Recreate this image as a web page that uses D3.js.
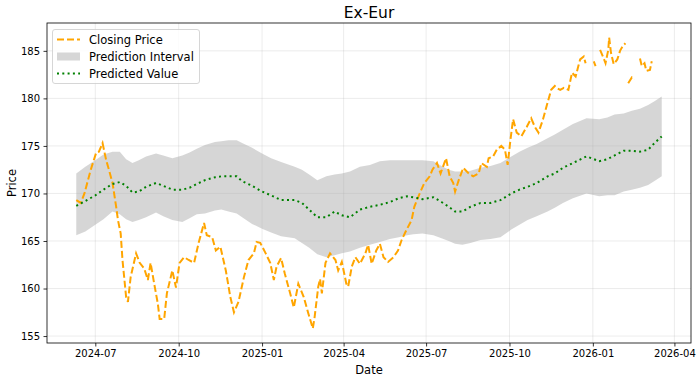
<!DOCTYPE html>
<html><head><meta charset="utf-8">
<script src="https://cdn.jsdelivr.net/npm/d3@7"></script>
<style>body{margin:0;background:#fff}text{font-family:"DejaVu Sans",sans-serif}</style>
</head><body><svg id="c" width="700" height="382"></svg>
<script>
const closeDates = ["2024-06-10","2024-06-15","2024-06-19","2024-06-26","2024-07-02","2024-07-05","2024-07-09","2024-07-13","2024-07-16","2024-07-20","2024-07-24","2024-07-26","2024-07-29","2024-07-31","2024-08-04","2024-08-06","2024-08-09","2024-08-15","2024-08-19","2024-08-24","2024-08-28","2024-08-31","2024-09-04","2024-09-08","2024-09-10","2024-09-15","2024-09-18","2024-09-24","2024-09-28","2024-10-02","2024-10-07","2024-10-12","2024-10-18","2024-10-23","2024-10-29","2024-11-01","2024-11-07","2024-11-11","2024-11-16","2024-11-22","2024-11-27","2024-12-01","2024-12-06","2024-12-12","2024-12-17","2024-12-23","2024-12-26","2024-12-30","2025-01-05","2025-01-10","2025-01-14","2025-01-17","2025-01-22","2025-01-26","2025-02-01","2025-02-05","2025-02-10","2025-02-16","2025-02-21","2025-02-26","2025-02-28","2025-03-04","2025-03-06","2025-03-08","2025-03-12","2025-03-17","2025-03-23","2025-03-26","2025-03-30","2025-04-04","2025-04-06","2025-04-10","2025-04-14","2025-04-19","2025-04-25","2025-04-28","2025-05-02","2025-05-07","2025-05-11","2025-05-15","2025-05-20","2025-05-26","2025-05-31","2025-06-04","2025-06-09","2025-06-15","2025-06-18","2025-06-24","2025-06-29","2025-07-05","2025-07-08","2025-07-13","2025-07-17","2025-07-23","2025-07-27","2025-07-31","2025-08-02","2025-08-06","2025-08-11","2025-08-17","2025-08-22","2025-08-28","2025-08-31","2025-09-06","2025-09-08","2025-09-13","2025-09-17","2025-09-22","2025-09-26","2025-09-29","2025-10-02","2025-10-05","2025-10-09","2025-10-14","2025-10-20","2025-10-25","2025-10-29","2025-11-02","2025-11-07","2025-11-11","2025-11-16","2025-11-20","2025-11-22","2025-11-26","2025-11-30","2025-12-05","2025-12-09","2025-12-13","2025-12-16","2025-12-18","2025-12-22","2025-12-24","2025-12-28","2026-01-02","2026-01-04","2026-01-06","2026-01-09","2026-01-13","2026-01-15","2026-01-18","2026-01-19","2026-01-21","2026-01-24","2026-01-28","2026-01-31","2026-02-03","2026-02-06","2026-02-08","2026-02-09","2026-02-13","2026-02-16","2026-02-19","2026-02-22","2026-02-24","2026-02-27","2026-03-01","2026-03-05","2026-03-07"];
const closeValues = [169.3,169.0,170.0,172.5,174.3,174.4,175.3,173.5,172.5,171.1,168.6,167.2,165.8,163.0,159.1,158.6,161.2,163.7,162.7,162.1,160.9,162.7,160.5,158.4,156.8,156.8,159.5,161.9,160.1,162.7,163.3,163.0,162.7,164.8,166.9,165.6,165.4,164.0,164.4,161.9,159.1,157.5,158.6,161.2,163.0,163.7,164.9,164.8,163.7,162.7,160.9,162.3,163.2,161.6,159.5,158.0,160.5,159.1,157.4,155.8,157.0,160.2,161.0,159.5,162.7,163.7,163.0,161.9,162.8,160.5,160.2,162.3,163.3,162.6,163.7,164.6,162.6,164.0,164.7,163.3,162.8,163.3,164.0,165.1,166.1,167.2,168.6,170.0,171.1,171.8,172.5,173.2,172.1,173.7,171.8,171.1,170.2,171.4,172.7,172.1,171.8,172.1,173.2,172.8,173.7,173.9,174.6,175.0,174.6,173.0,175.6,177.8,176.4,176.0,177.0,177.9,177.0,176.4,177.8,179.2,180.9,181.3,181.1,180.9,181.1,180.9,182.7,182.3,183.4,184.1,184.4,183.7,null,183.9,183.4,null,185.1,184.2,183.7,185.1,186.4,184.8,183.6,184.1,185.0,185.5,185.8,null,181.6,182.2,182.0,null,184.2,183.4,183.7,182.9,183.0,183.9];

const predDates = ["2024-06-10","2024-06-20","2024-07-01","2024-07-10","2024-07-20","2024-07-28","2024-08-04","2024-08-11","2024-08-18","2024-08-26","2024-09-06","2024-09-14","2024-09-24","2024-10-05","2024-10-13","2024-10-21","2024-10-30","2024-11-10","2024-11-17","2024-11-25","2024-12-04","2024-12-10","2024-12-21","2025-01-01","2025-01-11","2025-01-22","2025-02-06","2025-02-14","2025-02-22","2025-03-03","2025-03-13","2025-03-22","2025-03-30","2025-04-08","2025-04-19","2025-04-30","2025-05-11","2025-05-22","2025-06-01","2025-06-10","2025-06-17","2025-06-27","2025-07-09","2025-07-18","2025-07-26","2025-08-02","2025-08-10","2025-08-19","2025-08-30","2025-09-10","2025-09-21","2025-10-03","2025-10-12","2025-10-21","2025-10-31","2025-11-12","2025-11-20","2025-11-29","2025-12-10","2025-12-25","2026-01-08","2026-01-17","2026-01-25","2026-02-04","2026-02-13","2026-02-22","2026-03-03","2026-03-10","2026-03-18"];
const predValues = [168.7,169.2,169.8,170.4,171.0,171.2,170.8,170.1,170.2,170.7,171.1,170.8,170.4,170.4,170.6,171.0,171.4,171.7,171.8,171.8,171.8,171.3,170.8,170.2,169.8,169.3,169.3,169.0,168.3,167.5,167.5,168.1,167.7,167.5,168.3,168.6,168.8,169.1,169.5,169.7,169.6,169.4,169.6,169.1,168.6,168.1,168.1,168.6,169.0,169.0,169.3,170.0,170.4,170.7,171.1,171.8,172.1,172.7,173.2,173.9,173.4,173.6,174.0,174.5,174.5,174.4,174.6,175.3,176.0];
const upperValues = [172.1,172.8,173.5,174.1,174.4,174.4,173.6,173.2,173.5,173.9,174.2,174.0,173.7,174.0,174.3,174.7,175.1,175.4,175.5,175.6,175.6,175.3,174.8,174.2,173.7,173.3,172.8,172.5,172.0,171.4,171.8,172.0,172.1,172.3,172.8,173.0,173.4,173.5,173.5,173.5,173.5,173.5,173.4,172.9,172.5,172.3,172.3,172.4,172.7,172.9,173.2,173.9,174.4,174.8,175.2,175.8,176.2,176.7,177.3,177.9,177.8,178.0,178.3,178.4,178.7,178.9,179.3,179.7,180.2];
const lowerValues = [165.6,166.0,166.7,167.3,168.1,167.8,167.3,167.0,167.2,167.5,168.0,167.6,167.2,167.0,167.4,167.8,167.9,168.2,168.3,168.1,167.9,167.5,166.8,166.3,165.9,165.5,165.3,164.8,164.3,163.6,163.3,163.5,163.7,163.9,164.3,164.6,164.9,165.2,165.4,165.6,165.7,165.8,165.6,165.3,165.0,164.7,164.6,164.8,165.1,165.2,165.4,166.2,166.7,167.2,167.6,168.1,168.5,169.0,169.5,170.0,169.7,169.8,169.8,170.2,170.4,170.6,170.9,171.3,171.8];

const yTickValues = [155,160,165,170,175,180,185];
const legendLabels = ["Closing Price","Prediction Interval","Predicted Value"];
const titleText = "Ex-Eur";

const parse = d3.utcParse("%Y-%m-%d");
const closing = closeDates.map((d,i)=>({date:parse(d), v:closeValues[i]}));
const pred = predDates.map((d,i)=>({date:parse(d), v:predValues[i], hi:upperValues[i], lo:lowerValues[i]}));

const L=47,R=691,T=23,B=343;
const svg = d3.select("#c");

const allDates = closing.map(d=>d.date).concat(pred.map(d=>d.date));
const [dmin,dmax] = d3.extent(allDates);
const span = dmax-dmin;
const x = d3.scaleUtc().domain([new Date(+dmin-0.05*span), new Date(+dmax+0.05*span)]).range([L,R]);
const allV = closeValues.filter(v=>v!=null).concat(upperValues, lowerValues, predValues);
const [vmin,vmax] = d3.extent(allV);
const vs = vmax-vmin;
const y = d3.scaleLinear().domain([vmin-0.05*vs, vmax+0.05*vs]).range([B,T]);

// band
svg.append("path").datum(pred)
  .attr("d", d3.area().x(d=>x(d.date)).y0(d=>y(d.lo)).y1(d=>y(d.hi)))
  .attr("fill","#808080").attr("fill-opacity",0.32);

// grid
const xTicks = x.ticks(d3.utcMonth.every(3));
svg.append("g").selectAll("line").data(xTicks).join("line")
  .attr("x1",d=>x(d)).attr("x2",d=>x(d)).attr("y1",T).attr("y2",B)
  .attr("stroke","#b0b0b0").attr("stroke-opacity",0.3).attr("stroke-width",0.8);
svg.append("g").selectAll("line").data(yTickValues).join("line")
  .attr("y1",d=>y(d)).attr("y2",d=>y(d)).attr("x1",L).attr("x2",R)
  .attr("stroke","#b0b0b0").attr("stroke-opacity",0.3).attr("stroke-width",0.8);

// closing line
svg.append("path").datum(closing)
  .attr("d", d3.line().defined(d=>d.v!=null).x(d=>x(d.date)).y(d=>y(d.v)))
  .attr("fill","none").attr("stroke","#FFA500").attr("stroke-width",2)
  .attr("stroke-dasharray","7,3");

// predicted
svg.append("path").datum(pred)
  .attr("d", d3.line().x(d=>x(d.date)).y(d=>y(d.v)))
  .attr("fill","none").attr("stroke","#008000").attr("stroke-width",2)
  .attr("stroke-dasharray","2,3.3");

// axes
const xAxis = d3.axisBottom(x).tickValues(xTicks).tickFormat(d3.utcFormat("%Y-%m")).tickSize(3.5).tickPadding(3.5);
const gx = svg.append("g").attr("transform",`translate(0,${B})`).call(xAxis);
const yAxis = d3.axisLeft(y).tickValues(yTickValues).tickSize(3.5).tickPadding(3.5);
const gy = svg.append("g").attr("transform",`translate(${L},0)`).call(yAxis);
[gx,gy].forEach(g=>{
  g.select(".domain").remove();
  g.selectAll(".tick line").attr("stroke","#000").attr("stroke-width",0.8);
  g.selectAll(".tick text").attr("fill","#000").style("font-size","10px").style("font-family","DejaVu Sans");
});
svg.append("rect").attr("x",L).attr("y",T).attr("width",R-L).attr("height",B-T)
  .attr("fill","none").attr("stroke","#000").attr("stroke-width",0.8);

// labels
svg.append("text").attr("x",(L+R)/2).attr("y",18).attr("text-anchor","middle")
  .style("font-size","15.5px").text(titleText);
svg.append("text").attr("x",(L+R)/2).attr("y",374).attr("text-anchor","middle")
  .style("font-size","11.5px").text("Date");
svg.append("text").attr("transform",`translate(16,${(T+B)/2}) rotate(-90)`).attr("text-anchor","middle")
  .style("font-size","11.5px").text("Price");

// legend
const lg = svg.append("g");
lg.append("rect").attr("x",52.5).attr("y",29.5).attr("width",147).attr("height",54).attr("rx",2.5)
  .attr("fill","#fff").attr("fill-opacity",0.8).attr("stroke","#cccccc").attr("stroke-width",0.8);
const rows=[39.5,56.5,73.5];
lg.append("line").attr("x1",57).attr("x2",80).attr("y1",rows[0]).attr("y2",rows[0])
  .attr("stroke","#FFA500").attr("stroke-width",2).attr("stroke-dasharray","7,3");
lg.append("rect").attr("x",57).attr("y",rows[1]-4).attr("width",23).attr("height",8)
  .attr("fill","#808080").attr("fill-opacity",0.32);
lg.append("line").attr("x1",57).attr("x2",80).attr("y1",rows[2]).attr("y2",rows[2])
  .attr("stroke","#008000").attr("stroke-width",2).attr("stroke-dasharray","2,3.3");
lg.selectAll("text.l").data(legendLabels).join("text").attr("class","l")
  .attr("x",89).attr("y",(d,i)=>rows[i]+4).style("font-size","11.5px").text(d=>d);
</script></body></html>
